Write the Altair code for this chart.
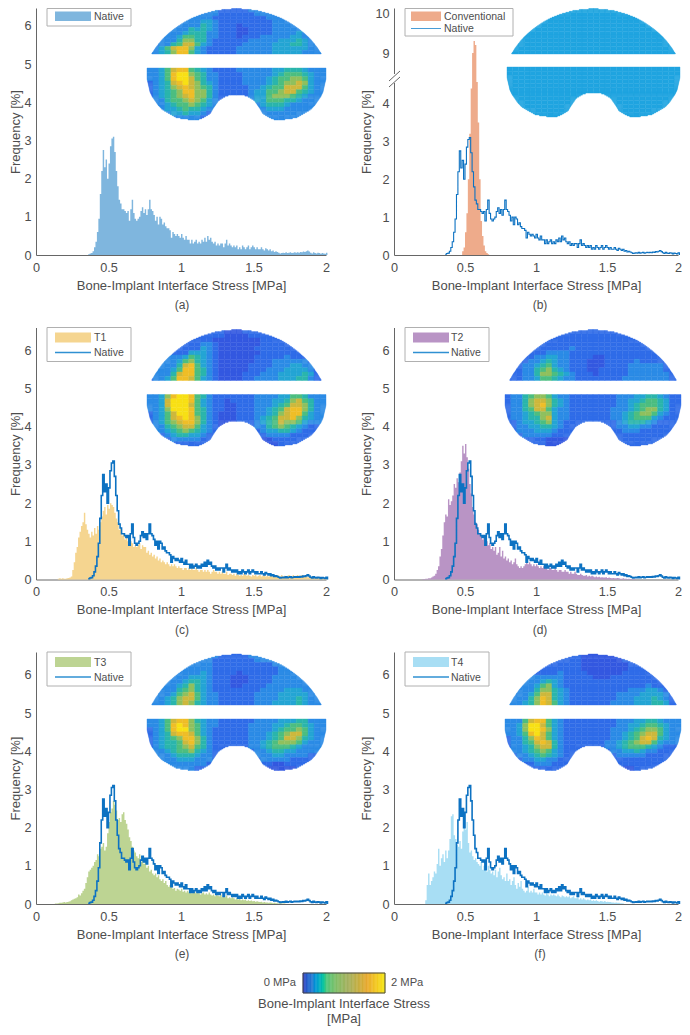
import altair as alt
import numpy as np
import pandas as pd

# ---- histograms: frequency in hundredths of a percent, 0.01 MPa bins
native_start = 0.36
native = [2,4,5,10,20,35,60,95,160,220, 275,230,250,200,240,285,305,310,270,220,
 180,145,135,120,120,115,110,115,90,120, 145,110,95,90,95,100,115,125,110,120,
 105,120,145,120,115,105,90,100,80,100, 95,80,85,75,70,70,65,45,60,55,
 50,55,50,45,55,45,40,50,40,40, 30,40,30,35,40,30,35,30,40,35,
 45,35,50,40,45,35,30,35,25,30, 25,30,30,20,30,40,25,30,25,20,
 25,20,25,15,20,15,25,20,15,20, 25,15,20,25,20,15,20,15,15,20,
 15,12,18,15,12,15,10,12,8,10, 8,6,4,5,6,5,7,5,6,7,
 5,6,7,6,7,6,8,7,9,8, 10,12,9,6,4,7,5,4,6,5, 3,5,4,3,6]
conv_start = 0.48
conventional = [10,20,60,110,200,320,440,900,930,920,500,350,200,90,50,25,10,5,2]
t1_start = 0.15
t1 = [2,3,2,3,2,2,3,4,5,8, 25,45,70,85,110,125,140,150,175,145,
 130,120,110,125,115,135,120,140,130,150, 165,180,190,170,195,185,200,195,190,175,
 160,150,130,135,115,120,105,110,100,95, 100,95,85,90,85,90,95,80,90,85,
 85,70,75,65,70,60,65,55,60,50, 55,45,50,45,40,45,40,35,40,35,
 40,35,30,35,30,30,25,30,30,25, 30,25,30,25,25,30,25,20,25,25,
 20,25,20,25,20,15,20,25,20,20, 15,20,15,20,15,15,20,12,15,15,
 12,15,10,15,12,10,12,10,15,12, 10,12,10,8,12,10,12,8,10,12,
 8,10,12,8,10,8,12,10,8,10, 8,12,10,8,12,8,10,8,10,12,
 10,8,12,8,10,12,8,10,12,10, 8,10,6,8,5,8,6,5,6,5, 5,4,6,3,5,4]
t2_start = 0.20
t2 = [1,1,2,2,3,3,5,8,10,15, 25,35,60,80,115,150,170,165,210,195,
 205,220,250,240,265,255,280,310,350,330, 355,320,290,250,225,190,170,150,145,130,
 120,115,105,110,95,100,90,95,80,85, 75,85,65,70,85,60,75,55,60,50,
 55,45,50,40,45,55,40,35,30,35, 30,35,40,45,40,45,40,35,40,35,
 40,35,30,35,30,35,30,30,25,30, 30,25,25,30,25,20,25,25,20,20,
 25,20,20,15,20,15,15,20,15,12, 12,15,12,10,10,12,8,10,8,10,
 8,6,8,6,7,5,6,5,5,6, 4,5,4,3,4,3,3,4,3,2, 2,3,2,2,1,2,1,1,1,1]
t3_start = 0.13
t3 = [1,1,2,3,3,4,5,4,5,6, 7,10,12,14,15,18,25,22,28,35,
 40,55,70,85,90,95,100,110,115,130, 125,145,150,160,140,150,185,215,240,250,
 270,260,245,220,225,215,235,240,220,210, 195,175,165,150,140,135,125,120,130,110,
 115,105,110,95,100,85,90,80,75,80, 70,75,65,60,65,55,60,50,45,50,
 45,40,42,35,40,38,35,40,32,35, 30,35,30,35,28,30,32,28,30,28,
 25,28,30,25,28,25,30,25,22,25, 20,25,22,20,25,18,20,18,22,15,
 18,15,18,15,12,15,12,15,10,12, 10,12,8,10,8,9,7,8,6,7,
 6,5,6,4,5,4,4,3,4,3, 2,3,2,2,1,2,1,1,1,0]
t4_start = 0.22
t4 = [10,50,80,50,60,70,85,80,105,145, 100,120,130,110,140,120,140,170,230,235,
 180,170,155,150,165,145,190,200,195,215, 160,135,140,125,115,120,110,105,100,110,
 90,100,95,85,100,90,80,85,75,90, 70,85,95,75,65,70,60,80,60,65,
 50,60,70,50,40,55,45,60,40,35, 30,35,45,30,35,30,40,30,30,25,
 30,25,30,25,22,28,25,20,25,22, 25,22,20,25,20,18,22,20,18,20,
 18,20,15,18,20,15,15,18,12,15, 12,15,12,10,12,10,12,8,10,8,
 10,8,6,8,7,6,8,5,6,5, 5,4,4,3,4,3,3,2,2,1]

# ---- stress maps, one digit per cell (0 low ... 9 high)
map_a = """22222222222211111222222222222
22222222222211111122222222222
22222222222111111111222222222
22222222233211111111122222222
22222222243211101111122222222
22222224343211100111122222222
22222234442211100111122223222
22222355442211101112222233222
22222466442111111222223334322
22224577532111112222233344322
22357886321111122222233333322
22346885321111122222233333222
22357885432111122222233444322
22358996542211112222234555432
22358997542211112222345566532
12347897643211112222345667632
12346787654211111223455777532
12345688664211111233556775432
12345678664211111233566654322
12245567653211111233555443222
22234556543211111223444322222
22233454432211111222333222222
22223343321111111222222222222
22222222211111111222222222222""".split()
map_c = """11111111111110001111111111111
11111111111110000111111111111
11111111111000000001111111111
11111111122100000001111111111
11111111132100000011111111111
11111113332100000001111111111
12222235432100000011111211111
12222356432100000011122222211
12222478532100000111122233221
12223588542100000111222333321
12224788542100001112223333431
12235887532100001122223334421
22368998542111111122223355422
22379998532110111122233467542
22379997532110011122234577642
22369998542110011122345788642
12357998542100011122346788532
12357898642100011123457786432
12356788642100011123457665322
12245677532100011122456543211
12234565432100011112334432111
11123443321100011111222211111
11112222211000011110011111111
11111111110000011000001111111""".split()
map_d = """11111111111111111111111111111
11111111111111111111111111111
11111111111111111111111111111
11111111111111111111111111111
11111111111211111111111111111
11111112222111111111111111111
11111223322111100111111111111
11112234322111000111112111111
11122345322111000111122222211
11122456432111001111122222211
11122466543211101111122222221
11122355432211111111222222221
12245665322111111112223344321
12246776432111111112233455431
12246786432111111112234555431
12245775322111111122234566431
12234566322111111122345665321
12234467322111111122345553211
11233456321111111112344432111
11223344321111111112233221111
11222333211111111111222111111
11122222111111111111111111111
11111110000111111111111111111
11111110000011111111111111111""".split()
map_e = """22222222222211111222222222222
22222222222111111122222222222
22222222222111111111122222222
22222222222111111111112222222
22222222232111101111112222222
22222223332111000111122222222
22222234432111000111122222222
22222346432111001111222222222
22222456432111111112222333222
22223567532211111122223333322
22234677532211111122223334322
22234676432211111122233334322
22357886432211111122223334422
22358986532211111222233455432
12358996532111111222234556532
12347887532111111222345677532
12345688642111111222345776432
12344578642111111223456665322
12344567542111111223455543222
12234556432111111122344332222
12223444322111111122233222211
12222333222111111112222211111
11222222221111111111100111111
11122222111111111111000001111""".split()
map_f = """11111111111110000001111111111
11111111111110000000111111111
11111111111110000000011111111
11111111111110000000011111111
21111111121111000000111111111
22222222221111100011111111111
22222234321111111111111111111
22222356321111111111111121111
22222466432111111111122233211
22223577432111111112222333321
22224687432111111112223334321
22234687532111111122223334431
22257885321111111112223344322
22369975321111111112233455432
22369986321111111122234566532
22358975321111111122345677532
12246875321111111122345787432
12245787421111111223456775322
12234677421111111223455543211
12234565321111111122334322111
11223454321111111112222211111
11122332211111111111111111111
11111222111111111111111111111
11111111111111111100001111111""".split()
map_b = ["a" * 30] * 24

# outline of the implant map, in cells of the 30-column grid, read at row edges/centres
dome_rows = [0, .5, 1.5, 2.5, 3.5, 4.5, 5.5, 6.5, 7.5, 8.5, 9.5, 10.5, 11.5, 12]
dome_half = [0, 3.3, 5.7, 7.4, 8.6, 9.6, 10.5, 11.3, 12.0, 12.6, 13.1, 13.6, 14.0, 14.25]
lower_rows = [0, 2.5, 3.5, 4.5, 5.5, 6.5, 7.5, 8.5, 9.5, 10.5, 11.5, 12]
lower_left = [0, 0, 0.17, 0.34, 0.5, 0.84, 1.34, 1.84, 2.5, 3.7, 5.0, 7.5]
notch_rows = [6.15, 6.25, 6.5, 7.5, 8.5, 9.5, 10.5, 11.5, 12]
notch_left = [15, 14.0, 13.2, 12.0, 11.5, 11.0, 10.6, 9.4, 8.5]
notch_right = [15, 16.0, 16.8, 18.0, 18.5, 19.0, 19.4, 20.6, 21.5]
SUB = 4

map_digits = [0, 1, 2, 3, 4, 5, 6, 7, 8, 9, 10]
map_colors = ["#3358e0", "#2f6ce8", "#2b8be6", "#24a5d4", "#2ab5ac", "#4cbe80",
              "#8fc05e", "#cdb83c", "#efbe27", "#f8e014", "#1fa4e0"]
bar_stops = [0, 0.24, 0.56, 1.1, 1.56, 2]
bar_colors = ["#3a3cc0", "#2f7fd0", "#45c880", "#a5b060", "#e8a830", "#f5e810"]

FONT = "Liberation Sans"
TXT = "#4d4d4d"
W, H = 290, 252
W2 = 284
H1 = 247
LOWER_OFFSET = 15.3
one = pd.DataFrame({"k": [0]})


def hist_df(start, vals):
    xs = [round(start + i * 0.01, 2) for i in range(len(vals))] + [round(start + len(vals) * 0.01, 2)]
    return pd.DataFrame({"x": xs, "y": [v / 100 for v in vals] + [0]})


def spans_at(r, y):
    if r < 12:
        h = np.interp(y, dome_rows, dome_half)
        return [(15 - h, 15 + h)]
    y = y - 12
    left = np.interp(y, lower_rows, lower_left)
    if y <= notch_rows[0]:
        return [(left, 30 - left), None]
    return [(left, np.interp(y, notch_rows, notch_left)), (np.interp(y, notch_rows, notch_right), 30 - left)]


def map_df(rows):
    out = []
    for r, row in enumerate(rows):
        row = row.ljust(30, row[-1])
        y0 = r if r < 12 else r - 12 + LOWER_OFFSET
        subs = [spans_at(r, r + (k + 0.5) / SUB) for k in range(SUB)]
        n_span = len(subs[0])
        for c in range(30):
            v = int(row[c], 16)
            for s in range(n_span):
                pieces = []
                for k in range(SUB):
                    sp = subs[k][s]
                    if sp is None:
                        pieces.append(None)
                        continue
                    x0, x1 = max(c, sp[0]), min(c + 1, sp[1])
                    pieces.append((round(float(x0), 3), round(float(x1), 3)) if x1 > x0 else None)
                if all(p is not None and p == (c, c + 1) for p in pieces):
                    out.append({"x0": c, "x1": c + 1, "y0": y0, "y1": y0 + 1, "v": v})
                else:
                    for k, p in enumerate(pieces):
                        if p is not None:
                            out.append({"x0": p[0], "x1": p[1], "y0": y0 + k / SUB, "y1": y0 + (k + 1) / SUB, "v": v})
    return pd.DataFrame(out)


def text(s, x, y, **kw):
    opts = dict(text=s, font=FONT, fontSize=10.5, color=TXT, align="left", baseline="middle")
    opts.update(kw)
    return alt.Chart(one).mark_text(**opts).encode(x=alt.value(x), y=alt.value(y))


def panel(caption, rows, x_range, y_range, fill, fill_start, fill_vals, fill_label, col=0, top_row=False,
          with_native=True, broken=False, box_w=84, sw_x=(19, 55), txt_x=58, line_w=1.6):
    h = H1 if top_row else H
    w = W if col == 0 else W2
    if broken:
        ys = alt.Scale(domain=[0, 4.57, 8.43, 9, 10, 10.1], range=[h, 74, 74, 45, 5, 0], nice=False)
        yticks = [0, 1, 2, 3, 4, 9, 10]
    elif top_row:
        ys = alt.Scale(domain=[0, 6.47], range=[h, 0], nice=False)
        yticks = [0, 1, 2, 3, 4, 5, 6]
    else:
        ys = alt.Scale(domain=[0, 6.6], range=[h, 0], nice=False)
        yticks = [0, 1, 2, 3, 4, 5, 6]
    xs = alt.Scale(domain=[0, 2], nice=False)
    xax = alt.Axis(values=[0, 0.5, 1, 1.5, 2], format="~g", title="Bone-Implant Interface Stress [MPa]",
                   titlePadding=5.5, labelPadding=6, ticks=False, grid=False, labelFlush=False)
    yax = alt.Axis(values=yticks, format="d", title="Frequency [%]", labelPadding=5, ticks=False, grid=False,
                   labelOverlap=False, labelFlush=False, titleX=-14 if col == 0 else -21, titleY=h / 2)
    layers = [alt.Chart(hist_df(fill_start, fill_vals)).mark_area(interpolate="step-after", color=fill).encode(
        x=alt.X("x:Q", scale=xs, axis=xax), y=alt.Y("y:Q", scale=ys, axis=yax))]
    if with_native:
        layers.append(alt.Chart(hist_df(native_start, native)).mark_line(
            interpolate="step-after", color="#0d72c2", strokeWidth=line_w).encode(
            x=alt.X("x:Q", scale=xs, axis=None), y=alt.Y("y:Q", scale=ys, axis=None)))
    color_scale = alt.Scale(domain=map_digits, range=map_colors)
    layers.append(alt.Chart(map_df(rows)).mark_rect(strokeWidth=0.4).encode(
        x=alt.X("x0:Q", scale=alt.Scale(domain=[0, 30], range=x_range, nice=False), axis=None),
        x2="x1:Q",
        y=alt.Y("y0:Q", scale=alt.Scale(domain=[0, 12, LOWER_OFFSET, LOWER_OFFSET + 12], range=y_range, nice=False), axis=None),
        y2="y1:Q",
        fill=alt.Fill("v:Q", scale=color_scale, legend=None),
        stroke=alt.Stroke("v:Q", scale=color_scale, legend=None)))
    if top_row:
        box_top, sw_y, t1_y, l_y, t2_y = 0.5, (3.5, 13), 8.5, 20.5, 21
    else:
        box_top, sw_y, t1_y, l_y, t2_y = 0, (5, 15), 10.5, 25, 25.5
    box_bot = (28 if top_row else 34) if with_native else 18
    layers.append(alt.Chart(one).mark_rect(fill="white", stroke="#b0b0b0", strokeWidth=1).encode(
        x=alt.value(11), x2=alt.value(11 + box_w), y=alt.value(box_top), y2=alt.value(box_bot)))
    layers.append(alt.Chart(one).mark_rect(fill=fill).encode(
        x=alt.value(sw_x[0]), x2=alt.value(sw_x[1]), y=alt.value(sw_y[0]), y2=alt.value(sw_y[1])))
    layers.append(text(fill_label, txt_x, t1_y))
    if with_native:
        layers.append(alt.Chart(one).mark_rule(color="#2f90d2", strokeWidth=line_w * 0.8).encode(
            x=alt.value(sw_x[0]), x2=alt.value(sw_x[1]), y=alt.value(l_y)))
        layers.append(text("Native", txt_x, t2_y))
    if broken:
        layers.append(alt.Chart(one).mark_rule(color="white", strokeWidth=3).encode(
            x=alt.value(0), y=alt.value(66), y2=alt.value(75)))
        for dy in (0, 6):
            layers.append(alt.Chart(one).mark_rule(color="#555555", strokeWidth=0.9).encode(
                x=alt.value(-5), x2=alt.value(6), y=alt.value(73 + dy), y2=alt.value(63 + dy)))
    layers.append(text(caption, W / 2 + 1, h + 50, align="center", fontSize=12))
    return alt.layer(*layers).resolve_scale(x="independent", y="independent").properties(width=w, height=h)


lower_y = [2, 53, 67, 118.5]
pa = panel("(a)", map_a, [111, 290], [0.5, 46, 60, 112], "#7fb6de", native_start, native, "Native",
           with_native=False, top_row=True)
pb = panel("(b)", map_b, [113, 286], [0.5, 46, 59, 109], "#eeab8b", conv_start, conventional, "Conventional",
           col=1, top_row=True, broken=True, box_w=108, sw_x=(17, 47), txt_x=50, line_w=1.1)
pc = panel("(c)", map_c, [111, 290], lower_y, "#f5d590", t1_start, t1, "T1")
pd_ = panel("(d)", map_d, [111, 287], lower_y, "#b994c5", t2_start, t2, "T2", col=1, txt_x=57)
pe = panel("(e)", map_e, [111, 290], lower_y, "#bdd493", t3_start, t3, "T3")
pf = panel("(f)", map_f, [111, 287], lower_y, "#a8def4", t4_start, t4, "T4", col=1, txt_x=57)

n_bar = 60
bar = pd.DataFrame({"i": [i * 2 / n_bar for i in range(n_bar)], "j": [(i + 1) * 2 / n_bar for i in range(n_bar)],
                    "s": [(i + 0.5) * 2 / n_bar for i in range(n_bar)]})
bar_scale = alt.Scale(domain=bar_stops, range=bar_colors)
cb = alt.layer(
    alt.Chart(bar).mark_rect(strokeWidth=0.5).encode(
        x=alt.X("i:Q", scale=alt.Scale(domain=[0, 2], range=[267, 349], nice=False), axis=None),
        x2="j:Q", y=alt.value(-3.5), y2=alt.value(16.5),
        fill=alt.Fill("s:Q", scale=bar_scale, legend=None),
        stroke=alt.Stroke("s:Q", scale=bar_scale, legend=None)),
    alt.Chart(one).mark_rect(fill=None, stroke="#444444", strokeWidth=1).encode(
        x=alt.value(267), x2=alt.value(349), y=alt.value(-3.5), y2=alt.value(16.5)),
    text("0 MPa", 260, 6.5, align="right", fontSize=11.2),
    text("2 MPa", 355, 6.5, fontSize=11.2),
    text("Bone-Implant Interface Stress", 308, 27, align="center", fontSize=13),
    text("[MPa]", 308, 42, align="center", fontSize=13),
).properties(width=W, height=20)

chart = alt.concat(pa, pb, pc, pd_, pe, pf, cb, columns=2, spacing={"row": 72.5, "column": 68}, bounds="flush").configure_view(
    stroke=None
).configure_axis(
    labelFont=FONT, titleFont=FONT, labelFontSize=12.7, titleFontSize=13, titleFontWeight="normal",
    labelColor=TXT, titleColor=TXT, domainColor="#666666", domainWidth=1
).resolve_scale(color="independent", fill="independent", stroke="independent").properties(
    padding={"left": 1, "top": -1, "right": -1, "bottom": 2})

chart.save("out.html", embed_options={"renderer": "svg", "actions": False})
